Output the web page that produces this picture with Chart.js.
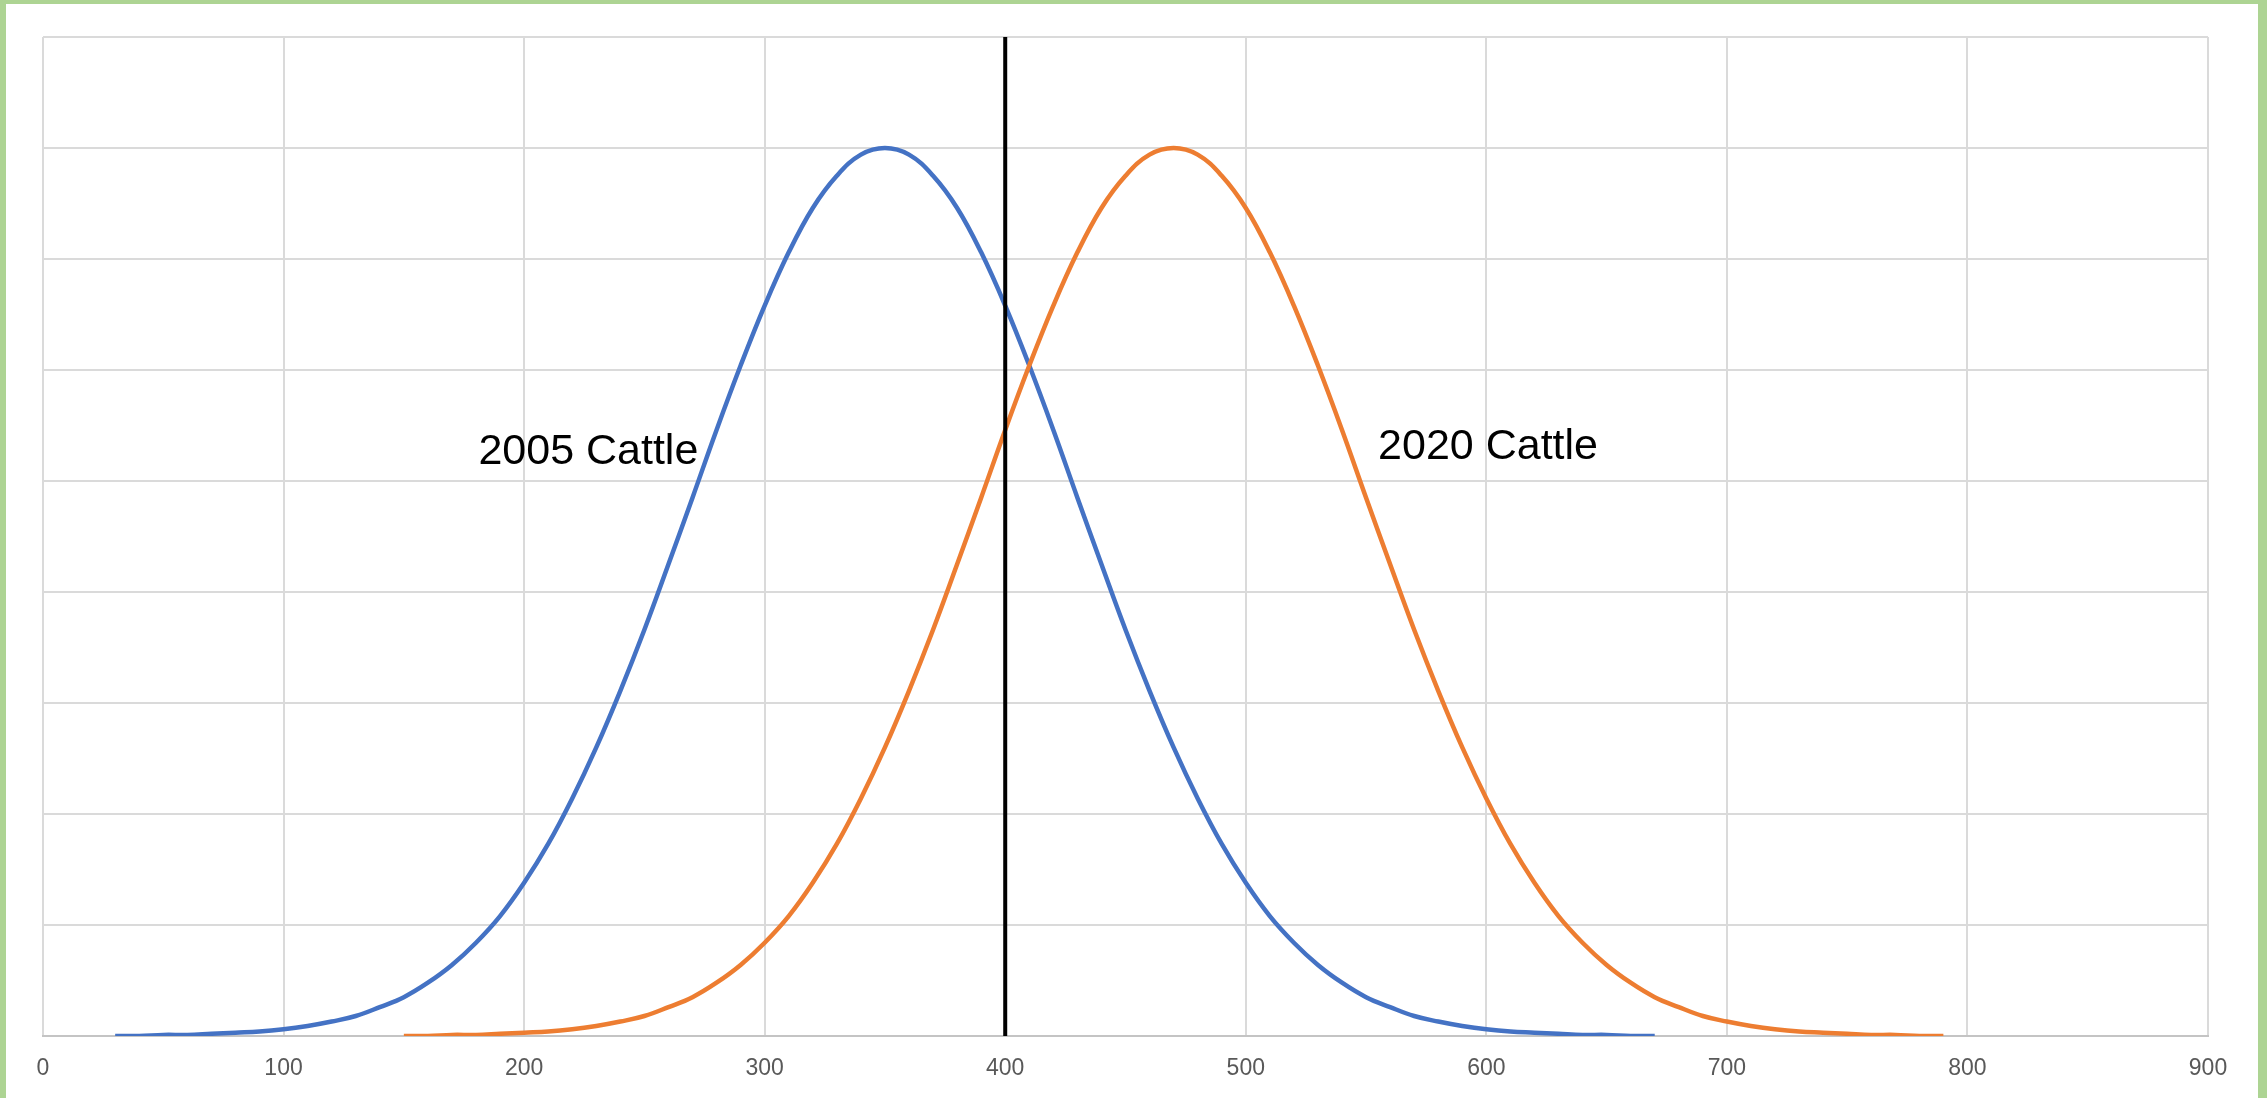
<!DOCTYPE html>
<html>
<head>
<meta charset="utf-8">
<script src="https://cdn.jsdelivr.net/npm/chart.js@4.4.1/dist/chart.umd.min.js"></script>
<style>
    html, body { margin: 0; padding: 0; background: #ffffff; overflow: hidden; }
    #wrap { position: relative; width: 2267px; height: 1098px; }
    #cattleChart { display: block; }
    #frame {
        position: absolute; left: 0; top: 0; right: 0; bottom: 0;
        border-left: 6px solid #add493;
        border-top: 4px solid #add493;
        border-right: 9px solid #add493;
        pointer-events: none;
    }
</style>
</head>
<body>
<div id="wrap">
    <canvas id="cattleChart" width="2267" height="1098"></canvas>
    <div id="frame"></div>
</div>
<script>
// Weight axis ticks
const xTicks = [0, 100, 200, 300, 400, 500, 600, 700, 800, 900];

// 2005 cattle, weights 30..670 every 10
const weights2005 = [30, 40, 50, 60, 70, 80, 90, 100, 110, 120, 130, 140, 150, 160, 170, 180, 190,
    200, 210, 220, 230, 240, 250, 260, 270, 280, 290, 300, 310, 320, 330, 340, 350, 360, 370, 380,
    390, 400, 410, 420, 430, 440, 450, 460, 470, 480, 490, 500, 510, 520, 530, 540, 550, 560, 570,
    580, 590, 600, 610, 620, 630, 640, 650, 660, 670];
const cattle2005 = [0.00, 0.00, 0.01, 0.01, 0.02, 0.03, 0.04, 0.06, 0.09, 0.13, 0.18, 0.26, 0.35,
    0.48, 0.64, 0.84, 1.08, 1.38, 1.73, 2.14, 2.60, 3.11, 3.66, 4.25, 4.85, 5.46, 6.04, 6.58, 7.06,
    7.46, 7.75, 7.94, 8.00, 7.94, 7.75, 7.46, 7.06, 6.58, 6.04, 5.46, 4.85, 4.25, 3.66, 3.11, 2.60,
    2.14, 1.73, 1.38, 1.08, 0.84, 0.64, 0.48, 0.35, 0.26, 0.18, 0.13, 0.09, 0.06, 0.04, 0.03, 0.02,
    0.01, 0.01, 0.00, 0.00];

// 2020 cattle, weights 150..790 every 10
const weights2020 = [150, 160, 170, 180, 190, 200, 210, 220, 230, 240, 250, 260, 270, 280, 290,
    300, 310, 320, 330, 340, 350, 360, 370, 380, 390, 400, 410, 420, 430, 440, 450, 460, 470, 480,
    490, 500, 510, 520, 530, 540, 550, 560, 570, 580, 590, 600, 610, 620, 630, 640, 650, 660, 670,
    680, 690, 700, 710, 720, 730, 740, 750, 760, 770, 780, 790];
const cattle2020 = [0.00, 0.00, 0.01, 0.01, 0.02, 0.03, 0.04, 0.06, 0.09, 0.13, 0.18, 0.26, 0.35,
    0.48, 0.64, 0.84, 1.08, 1.38, 1.73, 2.14, 2.60, 3.11, 3.66, 4.25, 4.85, 5.46, 6.04, 6.58, 7.06,
    7.46, 7.75, 7.94, 8.00, 7.94, 7.75, 7.46, 7.06, 6.58, 6.04, 5.46, 4.85, 4.25, 3.66, 3.11, 2.60,
    2.14, 1.73, 1.38, 1.08, 0.84, 0.64, 0.48, 0.35, 0.26, 0.18, 0.13, 0.09, 0.06, 0.04, 0.03, 0.02,
    0.01, 0.01, 0.00, 0.00];

// Cut-off marker and curve labels
const cutoffX = [400, 400];
const cutoffY = [0, 9];
const labelTexts = ['2005 Cattle', '2020 Cattle'];
const labelX = [181, 555];
const labelY = [5.15, 5.2];

function toPoints(xs, ys) {
    return xs.map((x, i) => ({ x: x, y: ys[i] }));
}

// Draws the two curve labels at data positions
const curveLabels = {
    id: 'curveLabels',
    afterDatasetsDraw(chart) {
        const ctx = chart.ctx;
        const xs = chart.scales.x;
        const ys = chart.scales.y;
        ctx.save();
        ctx.fillStyle = '#000000';
        ctx.font = '43px "Liberation Sans", Arial, sans-serif';
        ctx.textAlign = 'left';
        ctx.textBaseline = 'alphabetic';
        labelTexts.forEach((t, i) => {
            ctx.fillText(t, xs.getPixelForValue(labelX[i]), ys.getPixelForValue(labelY[i]));
        });
        ctx.restore();
    }
};

const ctx = document.getElementById('cattleChart').getContext('2d');
new Chart(ctx, {
    type: 'scatter',
    data: {
        datasets: [{
            label: '2005 Cattle',
            data: toPoints(weights2005, cattle2005),
            showLine: true,
            borderColor: '#4472c4',
            borderWidth: 4.5,
            pointRadius: 0,
            tension: 0.4,
            order: 2
        }, {
            label: '2020 Cattle',
            data: toPoints(weights2020, cattle2020),
            showLine: true,
            borderColor: '#ed7d31',
            borderWidth: 4.5,
            pointRadius: 0,
            tension: 0.4,
            order: 1
        }, {
            label: 'Cut-off',
            data: toPoints(cutoffX, cutoffY),
            showLine: true,
            borderColor: '#000000',
            borderWidth: 4,
            pointRadius: 0,
            order: 0
        }]
    },
    options: {
        responsive: false,
        animation: false,
        layout: {
            padding: { left: 43, right: 59, top: 37, bottom: 14 }
        },
        plugins: {
            legend: { display: false },
            tooltip: { enabled: false }
        },
        scales: {
            x: {
                type: 'linear',
                min: 0,
                max: 900,
                afterBuildTicks: (axis) => {
                    axis.ticks = xTicks.map(v => ({ value: v }));
                },
                afterFit: (axis) => {
                    axis.height = 48;
                },
                grid: {
                    color: '#dadada',
                    lineWidth: 2,
                    drawTicks: false
                },
                border: { color: '#c4c4c4', width: 2 },
                ticks: {
                    padding: 19,
                    color: '#595959',
                    maxRotation: 0,
                    font: { family: '"Liberation Sans", Arial, sans-serif', size: 23 }
                }
            },
            y: {
                min: 0,
                max: 9,
                ticks: { display: false, stepSize: 1 },
                grid: {
                    color: '#dadada',
                    lineWidth: 2,
                    drawTicks: false
                },
                border: { display: false }
            }
        }
    },
    plugins: [curveLabels]
});
</script>
</body>
</html>
